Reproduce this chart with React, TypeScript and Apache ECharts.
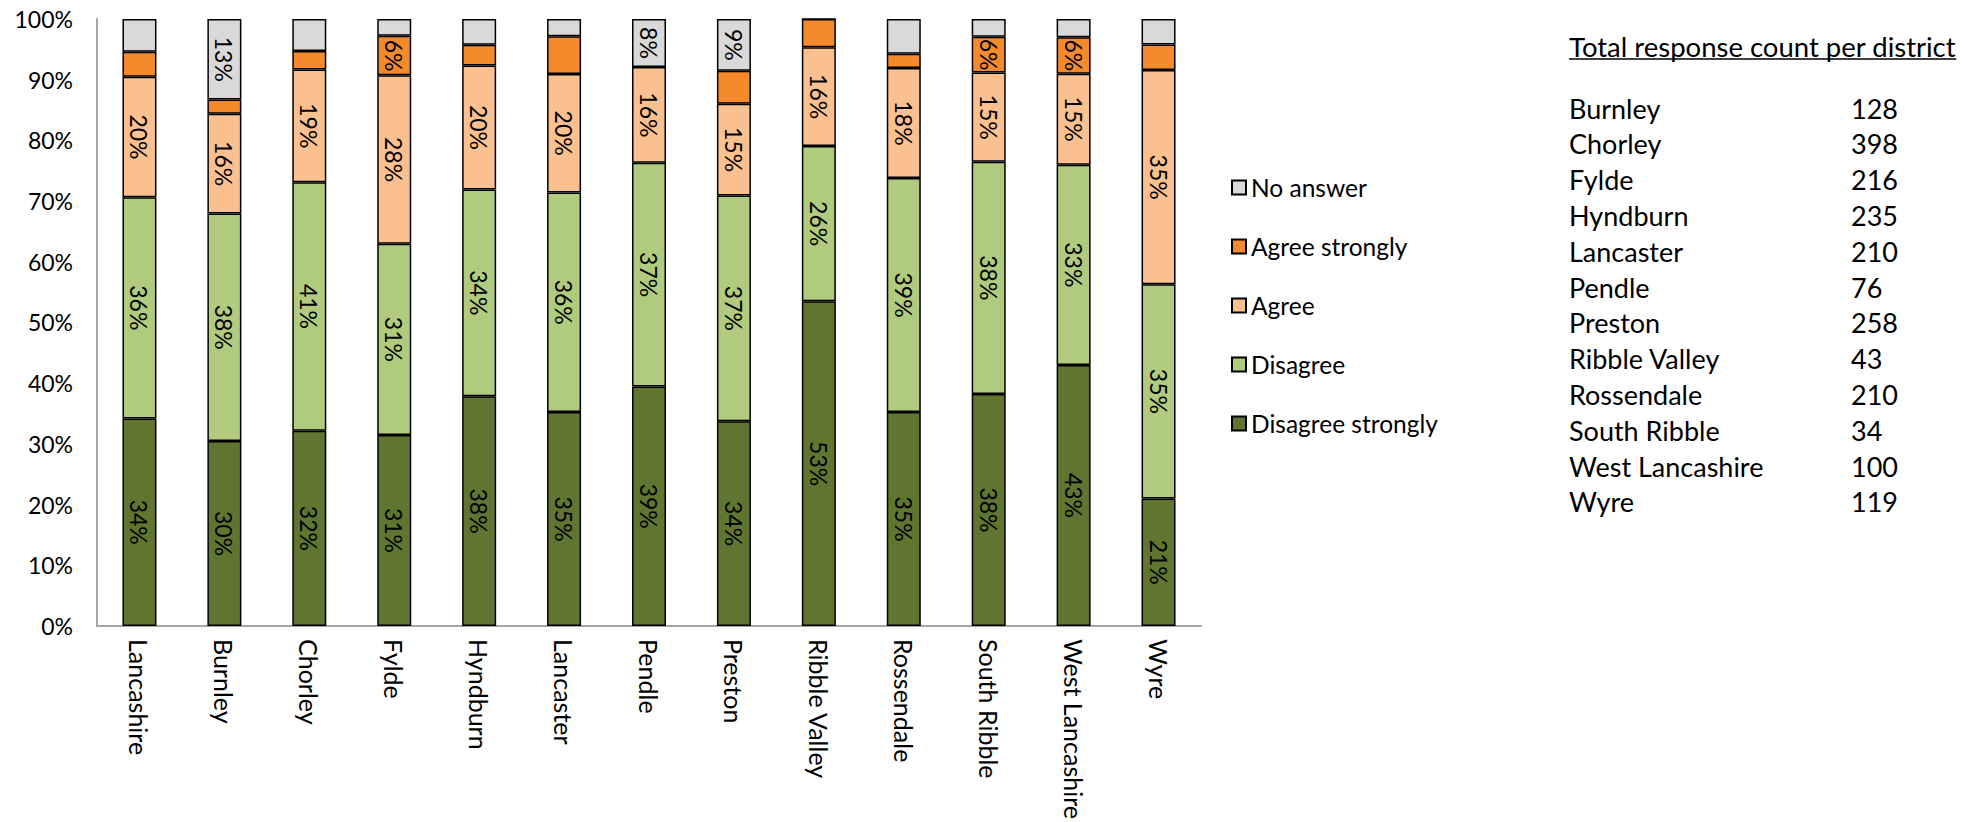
import React, { useEffect, useRef } from 'react';
import * as echarts from 'echarts';

const categories = ['Lancashire', 'Burnley', 'Chorley', 'Fylde', 'Hyndburn', 'Lancaster', 'Pendle', 'Preston', 'Ribble Valley', 'Rossendale', 'South Ribble', 'West Lancashire', 'Wyre'];
const disagreeStrongly = [34.19, 30.47, 32.16, 31.48, 37.87, 35.24, 39.47, 33.72, 53.49, 35.24, 38.24, 43, 21.01];
const disagree = [36.46, 37.5, 40.95, 31.48, 34.04, 36.19, 36.84, 37.21, 25.58, 38.57, 38.24, 33, 35.29];
const agree = [19.83, 16.41, 18.59, 27.78, 20.43, 19.52, 15.79, 15.12, 16.28, 18.1, 14.71, 15, 35.29];
const agreeStrongly = [4.14, 2.34, 3.02, 6.48, 3.4, 6.19, 0, 5.43, 4.65, 2.38, 5.88, 6, 4.2];
const noAnswer = [5.38, 13.28, 5.28, 2.78, 4.26, 2.86, 7.89, 8.53, 0, 5.71, 2.94, 3, 4.2];

const labelledAgreeStrongly = ['Fylde', 'South Ribble', 'West Lancashire'];
const labelledNoAnswer = ['Burnley', 'Pendle', 'Preston'];

const yTicks = [0, 10, 20, 30, 40, 50, 60, 70, 80, 90, 100];

const tableTitle = 'Total response count per district';
const districts = ['Burnley', 'Chorley', 'Fylde', 'Hyndburn', 'Lancaster', 'Pendle', 'Preston', 'Ribble Valley', 'Rossendale', 'South Ribble', 'West Lancashire', 'Wyre'];
const responseCounts = [128, 398, 216, 235, 210, 76, 258, 43, 210, 34, 100, 119];

const FONT = 'Lato, "Noto Sans", sans-serif';

function measure(text: string, size: number) {
  const c = document.createElement('canvas');
  const ctx = c.getContext('2d');
  if (!ctx) return text.length * size * 0.5;
  ctx.font = `${size}px Lato`;
  return ctx.measureText(text).width;
}

export default function App() {
  const ref = useRef<HTMLDivElement>(null);
  useEffect(() => {
    document.body.style.margin = '0';
    if (!ref.current) return;
    const chart = echarts.init(ref.current, undefined, { renderer: 'svg' });

    const labelStyle = {
      show: true,
      position: 'inside',
      rotate: -90,
      color: '#000',
      fontFamily: FONT,
      fontSize: 23,
      formatter: (p: any) => `${Math.round(p.value)}%`,
    };

    const mk = (name: string, data: number[], color: string, labelled?: string[]) => ({
      name,
      type: 'bar',
      stack: 'total',
      barWidth: 34,
      itemStyle: { color, borderColor: '#000', borderWidth: 1.5 },
      label: labelled ? { ...labelStyle, show: false } : labelStyle,
      data: data.map((v, i) =>
        labelled
          ? { value: v, label: { ...labelStyle, show: labelled.includes(categories[i]) } }
          : v
      ),
    });

    const titleSize = 27.5;
    const rowSize = 27;
    const titleW = measure(tableTitle, titleSize);
    const tableLeft = 1569;
    const numLeft = 1851;
    const rowTop = 108;
    const rowGap = 35.8;

    const graphics: any[] = [
      {
        type: 'text',
        x: tableLeft,
        y: 46,
        style: { text: tableTitle, font: `${titleSize}px ${FONT}`, fill: '#000', verticalAlign: 'middle' },
      },
      {
        type: 'line',
        shape: { x1: tableLeft, y1: 59, x2: tableLeft + titleW, y2: 59 },
        style: { stroke: '#000', lineWidth: 1.5 },
      },
    ];
    districts.forEach((d, i) => {
      graphics.push({
        type: 'text',
        x: tableLeft,
        y: rowTop + i * rowGap,
        style: { text: d, font: `${rowSize}px ${FONT}`, fill: '#000', verticalAlign: 'middle' },
      });
      graphics.push({
        type: 'text',
        x: numLeft,
        y: rowTop + i * rowGap,
        style: { text: String(responseCounts[i]), font: `${rowSize}px ${FONT}`, fill: '#000', verticalAlign: 'middle' },
      });
    });

    chart.setOption({
      animation: false,
      backgroundColor: '#fff',
      grid: { left: 97, right: 783, top: 19, bottom: 196, containLabel: false },
      legend: {
        orient: 'vertical',
        left: 1226,
        top: 170,
        itemWidth: 14,
        itemHeight: 14,
        itemGap: 34,
        icon: 'rect',
        data: ['No answer', 'Agree strongly', 'Agree', 'Disagree', 'Disagree strongly'],
        textStyle: { fontFamily: FONT, fontSize: 24.5, color: '#000' },
      },
      xAxis: {
        type: 'category',
        data: categories,
        axisLine: { lineStyle: { color: '#A6A6A6', width: 2 } },
        axisTick: { show: false },
        axisLabel: {
          rotate: -90,
          interval: 0,
          margin: 13,
          color: '#000',
          fontFamily: FONT,
          fontSize: 25,
        },
      },
      yAxis: {
        type: 'value',
        min: 0,
        max: 100,
        interval: 10,
        axisLine: { show: true, lineStyle: { color: '#A6A6A6', width: 2 } },
        axisTick: { show: false },
        splitLine: { show: false },
        axisLabel: {
          color: '#000',
          fontFamily: FONT,
          fontSize: 23,
          margin: 24,
          formatter: (v: number) => (yTicks.includes(v) ? `${v}%` : ''),
        },
      },
      series: [
        mk('Disagree strongly', disagreeStrongly, '#5F7530'),
        mk('Disagree', disagree, '#B0CB7E'),
        mk('Agree', agree, '#FAC090'),
        mk('Agree strongly', agreeStrongly, '#F58A2C', labelledAgreeStrongly),
        mk('No answer', noAnswer, '#D9D9D9', labelledNoAnswer),
      ],
      graphic: graphics,
    });
    return () => chart.dispose();
  }, []);
  return <div ref={ref} style={{ width: 1984, height: 822 }} />;
}
